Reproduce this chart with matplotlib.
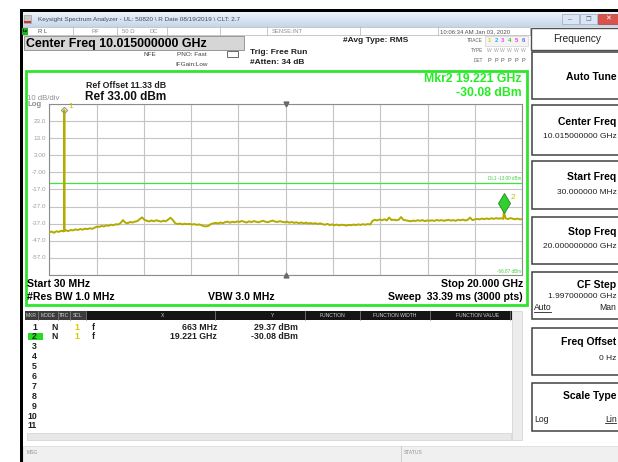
import numpy as np
import matplotlib
matplotlib.use('Agg')
import matplotlib.pyplot as plt
from matplotlib.patches import Rectangle
from matplotlib.transforms import blended_transform_factory, offset_copy

plt.rcParams['font.family'] = ['Liberation Sans', 'DejaVu Sans']

# ---------------- data ----------------
start_ghz = 0.03
stop_ghz = 20.0
center_ghz = 10.015
ref_level_dbm = 33.0
db_per_div = 10.0
display_line_dbm = -13.0

trace_dbm = [
    -42.0, -41.6, -42.3, -41.4, -41.8, -41.1, -41.5, -40.9, -41.3, -40.7,
    -40.9, -40.3, -40.7, -40.1, -40.5, -39.9, -40.2, -39.7, -40.0, -39.4,
    -38.7, -38.9, -38.3, -38.6, -38.0, -38.2, -37.6, -37.9, -37.3, -37.5,
    -36.6, -34.9, -36.4, -36.7, -36.0, -36.3, -35.8, -35.5, -34.4, -33.3,
    -34.7, -35.3, -35.7, -35.1, -35.6, -35.0, -35.4, -35.8, -35.2, -35.6,
    -34.6, -33.5, -34.9, -36.8, -37.2, -36.9, -37.4, -37.0, -37.3, -37.1,
    -37.5, -37.2, -37.7, -37.4, -37.9, -38.4, -38.6, -38.2, -37.2, -36.8,
    -36.5, -36.9, -36.3, -36.7, -36.1, -35.8, -36.4, -35.9, -36.2, -35.7,
    -36.0, -35.4, -35.9, -36.3, -35.6, -36.1, -35.5, -35.8, -36.2, -35.7,
    -35.3, -35.9, -36.1, -35.6, -35.2, -35.8, -36.0, -35.5, -35.9, -36.2,
    -35.8, -36.4, -36.0, -36.5, -36.2, -36.7, -36.3, -36.8, -36.4, -36.9,
    -36.6, -37.0, -36.7, -37.2, -36.8, -37.3, -37.6, -37.1, -37.8, -37.4,
    -37.9, -37.5, -38.0, -37.6, -37.8, -38.1, -37.7, -37.9, -37.5, -37.8,
    -37.4, -37.7, -37.3, -37.6, -37.2, -37.5, -35.3, -34.7, -35.1, -34.5,
    -35.0, -34.4, -35.1, -33.4, -34.9, -34.6, -35.0, -34.7, -33.1, -34.8,
    -35.0, -35.3, -35.6, -35.2, -35.4, -35.0, -35.3, -34.9, -35.5, -35.1,
    -35.3, -35.0, -35.4, -34.8, -35.2, -34.9, -35.3, -35.0, -34.7, -35.2,
    -34.9, -35.3, -34.7, -35.0, -34.6, -35.1, -34.8, -33.4, -34.9, -34.5,
    -34.2, -34.5, -34.0, -34.4, -33.9, -34.3, -33.8, -34.2, -33.7, -34.1,
    -33.8, -34.2, -33.9, -34.3, -33.7, -34.1, -34.4, -34.0, -34.5, -34.2,
]
carrier_freq_ghz = [0.650, 0.663, 0.676]
carrier_dbm = [-41.0, 29.37, -41.2]

marker_ids = ['1', '2']
marker_freq_ghz = [0.663, 19.221]
marker_dbm = [29.37, -30.08]
marker_x_text = ['663 MHz', '19.221 GHz']
marker_y_text = ['29.37 dBm', '-30.08 dBm']

y_tick_labels = ['23.0', '13.0', '3.00', '-7.00', '-17.0', '-27.0', '-37.0', '-47.0', '-57.0']

softkeys = [('Center Freq', '10.015000000 GHz'), ('Start Freq', '30.000000 MHz'),
            ('Stop Freq', '20.000000000 GHz')]

# ---------------- figure ----------------
W, H = 618, 462
fig = plt.figure(figsize=(W / 100, H / 100), dpi=100)
fig.patch.set_facecolor('white')
bg = fig.add_axes([0, 0, 1, 1])
bg.set_xlim(0, W)
bg.set_ylim(H, 0)
bg.axis('off')


def rect(x, y, w, h, fc='none', ec='none', lw=0.0, z=1):
    bg.add_patch(Rectangle((x, y), w, h, facecolor=fc, edgecolor=ec, linewidth=lw, zorder=z))


def txt(x, y, s, size=6.0, color='black', weight='normal', ha='left', va='center', z=5, **kw):
    return bg.text(x, y, s, fontsize=size, color=color, fontweight=weight, ha=ha, va=va,
                   zorder=z, **kw)


# outer frame
rect(23, 12, 595, 450, fc='white', z=0)
rect(20, 9, 598, 3, fc='black', z=3)
rect(20, 9, 3, 453, fc='black', z=3)

# title bar gradient
grad = np.linspace(0, 1, 32).reshape(-1, 1)
bg.imshow(grad, extent=(23, 618, 27, 12), cmap=matplotlib.colors.LinearSegmentedColormap.from_list(
    'tb', ['#eef3f9', '#c5d6ea']), aspect='auto', zorder=1)
rect(24, 15, 7, 8, fc='#c8c8c8', ec='#909090', lw=0.4, z=2)
rect(24, 21, 7, 2, fc='#d03030', z=2)
txt(38, 19, 'Keysight Spectrum Analyzer - UL: 50820 \\ R Date 08/19/2019 \\ CLT: 2.7',
    size=4.6, color='#3a4a66')
rect(562, 14, 17, 10, fc='#dce6f2', ec='#9aaac0', lw=0.5, z=2)
rect(580, 14, 17, 10, fc='#dce6f2', ec='#9aaac0', lw=0.5, z=2)
rect(598, 14, 20, 10, fc='#d9534a', ec='#a04040', lw=0.5, z=2)
txt(570, 19.5, '–', size=5, color='#506080', ha='center')
txt(588, 19.5, '❐', size=4.5, color='#506080', ha='center')
txt(608, 19.5, '✕', size=5, color='white', ha='center', weight='bold')

# status row
rect(23, 27, 507, 8, fc='white', ec='#b0b0b0', lw=0.5, z=2)
for xs in [73, 117, 167, 220, 267, 360, 438]:
    bg.plot([xs, xs], [27, 35], color='#b0b0b0', lw=0.5, zorder=3)
rect(22, 28, 6, 7, fc='#20b020', z=3)
txt(25, 31.5, 'Lx', size=3.2, color='black', ha='center', weight='bold')
txt(38, 31.5, 'R L', size=4.2, color='#505050')
txt(92, 31.5, 'RF', size=4.2, color='#909090')
txt(122, 31.5, '50 Ω', size=4.2, color='#909090')
txt(149, 31.5, 'DC', size=4.2, color='#909090')
txt(272, 31.5, 'SENSE:INT', size=4.2, color='#909090')
txt(440, 31.5, '10:06:34 AM Jan 03, 2020', size=4.3, color='#505050')

# center freq box
rect(24, 36, 220, 14, fc='#d6d6d6', ec='#8a8a8a', lw=0.6, z=2)
txt(26, 43.5, 'Center Freq 10.015000000 GHz', size=8.9, weight='bold')
txt(143, 54, 'NFE', size=4.6, color='#404040')
txt(177, 54, 'PNO: Fast', size=4.6, color='#404040')
txt(175, 64, 'IFGain:Low', size=4.6, color='#404040')
rect(227, 51, 11, 6, fc='white', ec='#505050', lw=0.6, z=2)
txt(250, 52, 'Trig: Free Run', size=6.0, weight='bold', color='#202020')
txt(250, 62, '#Atten: 34 dB', size=6.0, weight='bold', color='#202020')
txt(343, 41, '#Avg Type: RMS', size=6.0, weight='bold', color='#202020')
txt(483, 41, 'TRACE', size=3.4, color='#606060', ha='right')
txt(483, 50.5, 'TYPE', size=3.4, color='#606060', ha='right')
txt(483, 60, 'DET', size=3.4, color='#606060', ha='right')
rect(485, 36, 43, 10, fc='#f4f4f4', ec='#c8c8c8', lw=0.4, z=2)
trace_cols = ['#e0d000', '#20b0ff', '#ff40ff', '#30c030', '#ff40c0', '#6060ff']
for i, c in enumerate(trace_cols):
    txt(489 + i * 6.9, 41, str(i + 1), size=4.2, color=c, ha='center', weight='bold')
    txt(489 + i * 6.9, 50.5, 'W', size=3.6, color='#a0a0a0', ha='center')
    txt(489 + i * 6.9, 60, 'P', size=4.0, color='#505050', ha='center')

# green display panel
rect(25.5, 70.5, 501, 234, fc='white', ec='#2ee52e', lw=2.0, z=2)
txt(86, 86, 'Ref Offset 11.33 dB', size=6.3, weight='bold', color='#202020')
txt(85, 97, 'Ref 33.00 dBm', size=8.5, weight='bold', color='#101010')
txt(27, 98, '10 dB/div', size=5.6, color='#909090')
txt(27, 105, 'Log', size=5.6, color='#909090', weight='bold')
txt(522, 79, 'Mkr2 19.221 GHz', size=8.8, weight='bold', color='#22ee22', ha='right')
txt(522, 93, '-30.08 dBm', size=8.8, weight='bold', color='#22ee22', ha='right')
txt(27, 284, 'Start 30 MHz', size=7.6, weight='bold')
txt(27, 296.5, '#Res BW 1.0 MHz', size=7.6, weight='bold')
txt(208, 296.5, 'VBW 3.0 MHz', size=7.6, weight='bold')
txt(523, 284, 'Stop 20.000 GHz', size=7.6, weight='bold', ha='right')
txt(523, 296.5, 'Sweep  33.39 ms (3000 pts)', size=7.6, weight='bold', ha='right')

# marker table
rect(25, 311, 487, 8.5, fc='#151515', z=2)
rect(25, 311, 61, 8.5, fc='#3c3c3c', z=2)
for xs in [38, 58, 70, 86, 215, 305, 360, 430, 510]:
    bg.plot([xs, xs], [311, 319.5], color='#8a8a8a', lw=0.5, zorder=3)
hdr = [(31.5, 'MKR'), (48, 'MODE'), (64, 'TRC'), (78, 'SCL'), (163, 'X'), (273, 'Y'),
       (333, 'FUNCTION'), (395, 'FUNCTION WIDTH'), (478, 'FUNCTION VALUE')]
for xh, s in hdr:
    txt(xh, 315.5, s, size=3.6, color='#d0d0d0', ha='center')
rect(512, 311, 10, 129, fc='#ececec', ec='#c8c8c8', lw=0.4, z=2)
rect(27, 433, 484, 7, fc='#e8e8e8', ec='#c8c8c8', lw=0.4, z=2)
row_y = [327 + 9.9 * i for i in range(11)]
rect(28, row_y[1] - 3.5, 15, 7, fc='#22dd22', z=2)
for i, y in enumerate(row_y):
    txt(37, y, str(i + 1), size=6.3, weight='bold', ha='right', color='#202020')
for i in range(len(marker_ids)):
    y = row_y[i]
    txt(55, y, 'N', size=6.3, weight='bold', ha='center', color='#202020')
    txt(77, y, '1', size=6.3, weight='bold', ha='center', color='#d8cc00')
    txt(93, y, 'f', size=6.3, weight='bold', ha='center', color='#202020')
    txt(217, y, marker_x_text[i], size=6.3, weight='bold', ha='right', color='#202020')
    txt(298, y, marker_y_text[i], size=6.3, weight='bold', ha='right', color='#202020')

# bottom status bar
rect(23, 446, 595, 16, fc='#f0f0f0', ec='#d0d0d0', lw=0.4, z=2)
bg.plot([401, 401], [446, 462], color='#c8c8c8', lw=0.6, zorder=3)
txt(27, 453, 'MSG', size=3.6, color='#909090')
txt(404, 453, 'STATUS', size=3.6, color='#909090')

# right soft-key panel
rect(530, 27, 88, 419, fc='white', z=1)
rect(531, 28, 90, 22, fc='white', ec='#505050', lw=1.0, z=2)
txt(577, 38.5, 'Frequency', size=7.3, ha='center', color='#202020')
boxes = [(52, 47), (105, 50), (161, 48), (217, 47), (272, 47), (328, 47), (383, 48)]
for (by, bh) in boxes:
    rect(532, by, 90, bh, fc='white', ec='#404040', lw=1.1, z=2)
RX = 616.5
txt(RX, 77, 'Auto Tune', size=7.5, weight='bold', ha='right')
sk_y = [(122, 137), (177, 193), (232, 247)]
for (name, val), (y1, y2) in zip(softkeys, sk_y):
    txt(RX, y1, name, size=7.5, weight='bold', ha='right')
    txt(RX, y2, val, size=6.0, ha='right', color='#202020')
txt(RX, 285, 'CF Step', size=7.5, weight='bold', ha='right')
txt(RX, 296, '1.997000000 GHz', size=6.0, ha='right', color='#202020')
txt(534, 307.5, 'Auto', size=6.2, color='#202020')
bg.plot([534, 551], [311.5, 311.5], color='#202020', lw=0.6, zorder=3)
txt(RX, 307.5, 'Man', size=6.2, ha='right', color='#202020')
txt(RX, 342, 'Freq Offset', size=7.5, weight='bold', ha='right')
txt(RX, 358, '0 Hz', size=6.0, ha='right', color='#202020')
txt(RX, 396, 'Scale Type', size=7.5, weight='bold', ha='right')
txt(534, 419, 'Log', size=6.2, color='#202020')
txt(RX, 419, 'Lin', size=6.2, color='#202020', ha='right')
bg.plot([605, 616], [423, 423], color='#202020', lw=0.6, zorder=3)

# ---------------- spectrum axes ----------------
gx0, gx1, gy0, gy1 = 49.3, 522.3, 104.0, 275.0
ax = fig.add_axes([gx0 / W, 1 - gy1 / H, (gx1 - gx0) / W, (gy1 - gy0) / H])
ax.set_facecolor('white')
bottom_dbm = ref_level_dbm - 10 * db_per_div
ax.set_xlim(start_ghz, stop_ghz)
ax.set_ylim(bottom_dbm, ref_level_dbm)
ax.set_xticks(np.linspace(start_ghz, stop_ghz, 11))
ax.set_yticks(np.arange(bottom_dbm, ref_level_dbm + 1, db_per_div))
ax.tick_params(length=0, labelbottom=False, labelleft=False)
ax.grid(True, color='#c4c4c4', lw=0.8)
for sp in ax.spines.values():
    sp.set_color('#8c8c8c')
    sp.set_linewidth(0.8)

freq = np.linspace(start_ghz, stop_ghz, len(trace_dbm))
fx = np.concatenate([freq, carrier_freq_ghz, [marker_freq_ghz[1]]])
fy = np.concatenate([trace_dbm, carrier_dbm, [marker_dbm[1]]])
order = np.argsort(fx)
ax.plot(fx[order], fy[order], color='#b3aa00', lw=1.4, zorder=3)

ax.axhline(display_line_dbm, color='#3ae83a', lw=0.9, zorder=2)
ax.text(stop_ghz - 0.05, display_line_dbm + 1.2, 'DL1 -13.00 dBm', fontsize=3.3,
        color='#40d040', ha='right', va='bottom')
ax.text(stop_ghz - 0.05, bottom_dbm + 0.8, '-66.87 dBm', fontsize=3.3,
        color='#40d040', ha='right', va='bottom')

ylab_tr = blended_transform_factory(ax.transAxes, ax.transData)
for i, lab in enumerate(y_tick_labels):
    v = ref_level_dbm - (i + 1) * db_per_div
    ax.text(-0.006, v, lab, transform=ylab_tr, fontsize=4.6, color='#a0a0a0',
            ha='right', va='center', clip_on=False)

# center-frequency triangles
ax.plot([center_ghz], [ref_level_dbm], marker='v', ms=3.5, color='#6a6a6a', clip_on=False, zorder=4)
ax.plot([center_ghz], [bottom_dbm], marker='^', ms=3.5, color='#6a6a6a', clip_on=False, zorder=4)

# marker 1
ax.plot([marker_freq_ghz[0]], [marker_dbm[0]], marker='D', ms=3.2, mfc='none', mec='#9c9c70',
        mew=0.8, zorder=5)
ax.annotate(marker_ids[0], (marker_freq_ghz[0], marker_dbm[0]), xytext=(3, 3),
            textcoords='offset points', fontsize=6, color='#c8b800', va='center')
# marker 2
ax.annotate('', xy=(marker_freq_ghz[1], marker_dbm[1]), xytext=(0, 4),
            textcoords='offset points', arrowprops=dict(arrowstyle='-', color='#2aa02a', lw=0.8))
m2_tr = offset_copy(ax.transData, fig=fig, x=0, y=8.5, units='dots')
ax.plot([marker_freq_ghz[1]], [marker_dbm[1]], marker='d', ms=10, mfc='#30d030', mec='#1a8a1a',
        mew=0.6, transform=m2_tr, zorder=6)
ax.annotate(marker_ids[1], (marker_freq_ghz[1], marker_dbm[1]), xytext=(5, 10),
            textcoords='offset points', fontsize=6, color='#c8b800', va='center')

fig.savefig('out.png', dpi=100)
